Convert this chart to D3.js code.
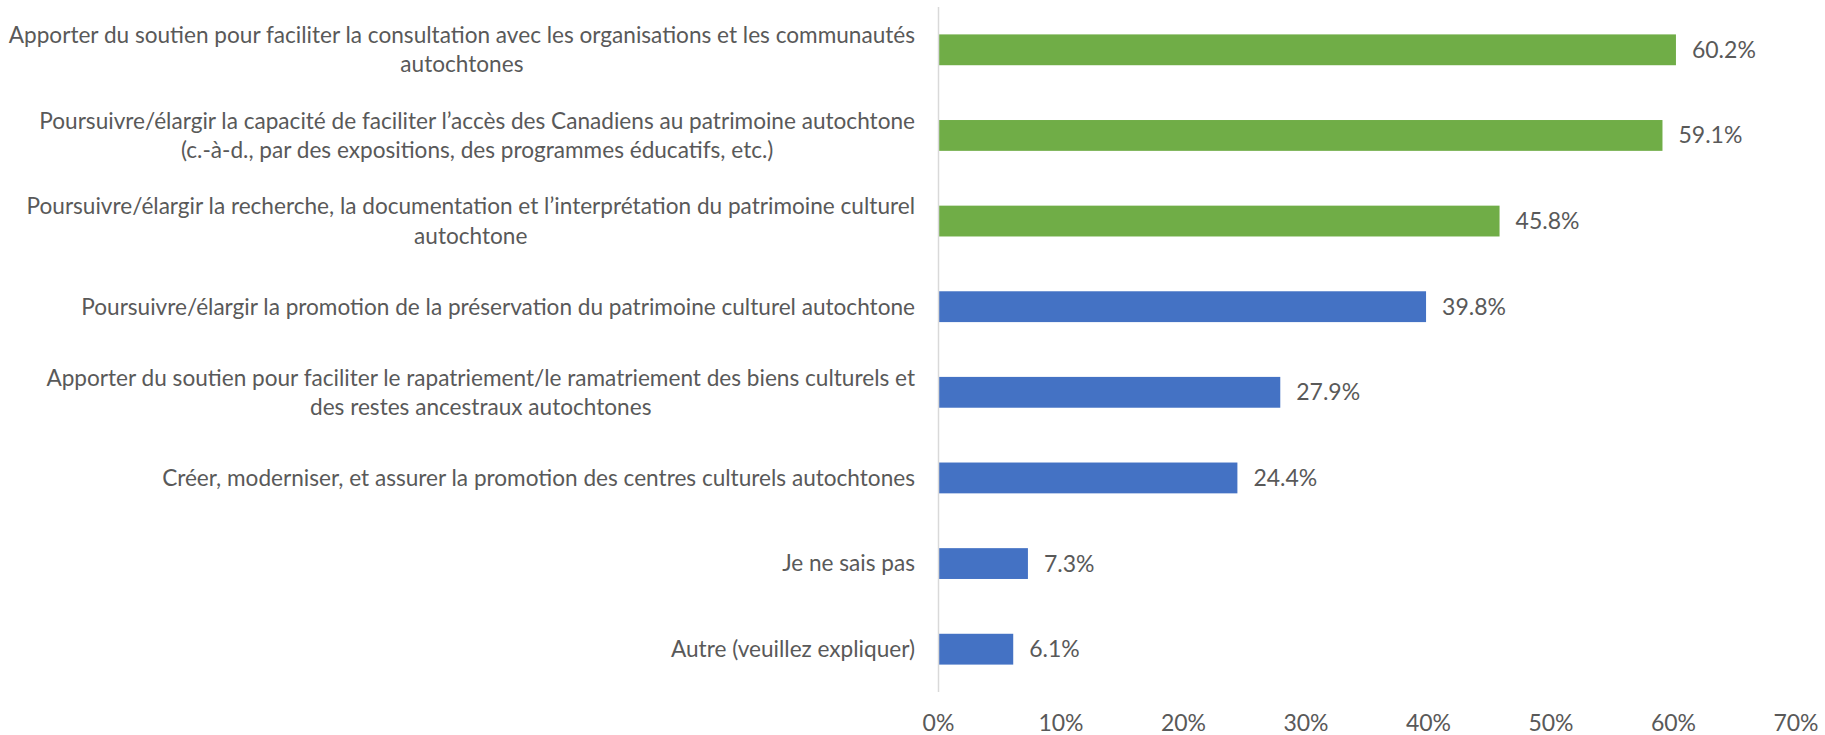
<!DOCTYPE html>
<html>
<head>
<meta charset="utf-8">
<script src="https://cdn.jsdelivr.net/npm/d3@7"></script>
<style>
  body { margin: 0; background: #fff; }
  text { font-family: Lato, "Open Sans", sans-serif; fill: #595959; }
</style>
</head>
<body>
<div id="chart"></div>
<script>
const categories = [
  ["Apporter du soutien pour faciliter la consultation avec les organisations et les communautés", "autochtones"],
  ["Poursuivre/élargir la capacité de faciliter l’accès des Canadiens au patrimoine autochtone", "(c.-à-d., par des expositions, des programmes éducatifs, etc.)"],
  ["Poursuivre/élargir la recherche, la documentation et l’interprétation du patrimoine culturel", "autochtone"],
  ["Poursuivre/élargir la promotion de la préservation du patrimoine culturel autochtone"],
  ["Apporter du soutien pour faciliter le rapatriement/le ramatriement des biens culturels et", "des restes ancestraux autochtones"],
  ["Créer, moderniser, et assurer la promotion des centres culturels autochtones"],
  ["Je ne sais pas"],
  ["Autre (veuillez expliquer)"]
];
const values = [60.2, 59.1, 45.8, 39.8, 27.9, 24.4, 7.3, 6.1];
const barColors = ["#70AD47", "#70AD47", "#70AD47", "#4472C4", "#4472C4", "#4472C4", "#4472C4", "#4472C4"];
const tickValues = [0, 10, 20, 30, 40, 50, 60, 70];

const width = 1825, height = 735;
const labelSize = 22.6;
const fontSize = 23;
const lineH = 29.3;

const svg = d3.select("#chart")
  .append("svg")
  .attr("width", width)
  .attr("height", height);

const data = values.map((v, i) => ({ id: i, lines: categories[i], value: v, color: barColors[i] }));

const x = d3.scaleLinear().domain([0, 70]).range([938.5, 1796]);
const y = d3.scaleBand()
  .domain(data.map(d => d.id))
  .range([7, 692])
  .paddingInner(0.64)
  .paddingOuter(0.32);

// bars
svg.selectAll(".bar")
  .data(data)
  .enter()
  .append("rect")
  .attr("class", "bar")
  .attr("x", x(0))
  .attr("y", d => y(d.id))
  .attr("width", d => x(d.value) - x(0))
  .attr("height", y.bandwidth())
  .attr("fill", d => d.color);

// vertical axis line
svg.append("line")
  .attr("x1", x(0)).attr("x2", x(0))
  .attr("y1", 7).attr("y2", 692)
  .attr("stroke", "#D9D9D9")
  .attr("stroke-width", 1.5);

// value labels
svg.selectAll(".val")
  .data(data)
  .enter()
  .append("text")
  .attr("class", "val")
  .attr("x", d => x(d.value) + 16)
  .attr("y", d => y(d.id) + y.bandwidth() / 2)
  .attr("dy", "0.35em")
  .style("font-size", fontSize + "px")
  .text(d => d.value.toFixed(1) + "%");

// category labels, multi-line labels centred as a block, block right-aligned
const labelRight = 915;
const groups = svg.selectAll(".cat")
  .data(data)
  .enter()
  .append("g")
  .attr("class", "cat");

groups.each(function (d) {
  const g = d3.select(this);
  const cy = y(d.id) + y.bandwidth() / 2;
  const n = d.lines.length;
  const texts = d.lines.map((line, k) =>
    g.append("text")
      .attr("y", cy + (k - (n - 1) / 2) * lineH)
      .attr("dy", "0.35em")
      .attr("text-anchor", "middle")
      .style("font-size", labelSize + "px")
      .text(line)
  );
  const maxW = d3.max(texts, t => t.node().getComputedTextLength());
  texts.forEach(t => t.attr("x", labelRight - maxW / 2));
});

// x axis tick labels
svg.selectAll(".tick-label")
  .data(tickValues)
  .enter()
  .append("text")
  .attr("class", "tick-label")
  .attr("x", d => x(d))
  .attr("y", 723)
  .attr("dy", "0.35em")
  .attr("text-anchor", "middle")
  .style("font-size", fontSize + "px")
  .text(d => d + "%");
</script>
</body>
</html>
